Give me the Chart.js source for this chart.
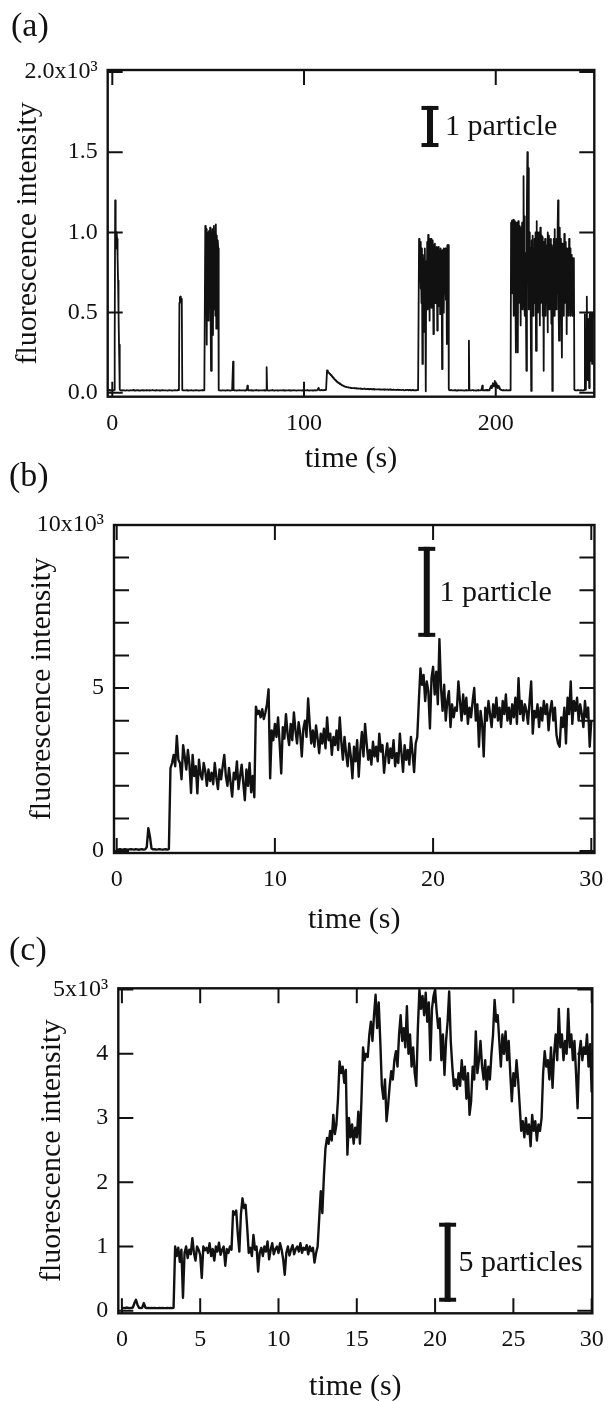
<!DOCTYPE html>
<html>
<head>
<meta charset="utf-8">
<script src="https://cdn.jsdelivr.net/npm/chart.js@4"></script>
<style>
  html, body { margin: 0; padding: 0; background: #fff; }
  body { width: 616px; height: 1401px; position: relative; overflow: hidden; }
  canvas { position: absolute; left: 0; }
  .tag { position: absolute; font: 34px 'Liberation Serif', serif; line-height: 1; color: #111; }
</style>
</head>
<body>
<canvas id="chartA" width="616" height="480" style="top:0px"></canvas>
<canvas id="chartB" width="616" height="480" style="top:460px"></canvas>
<canvas id="chartC" width="616" height="475" style="top:930px"></canvas>
<div class="tag" style="left:11px;top:8px">(a)</div>
<div class="tag" style="left:9px;top:458px">(b)</div>
<div class="tag" style="left:9px;top:932px">(c)</div>
<script>
// panel (a): one sample every 0.25 s, first sample at t = -2 s (40 samples per row = 10 s)
const startA = -2, stepA = 0.25;
const intensityA = [
  15,16,18,15,14,16,16,15,17,16,15,17,18,300,1200,900,990,1000,960,850,700,500,300,80,20,17,16,15,14,16,17,15,15,16,16,14,14,15,17,16, // -2
  15,16,16,14,14,15,17,16,15,16,16,17,18,16,15,14,14,15,16,17,15,16,17,15,16,14,14,15,15,16,17,16,16,15,14,15,15,16,16,17,             // 8
  15,16,17,16,16,15,14,15,15,16,16,17,18,16,15,16,16,15,14,16,17,16,15,16,16,15,15,14,14,15,16,16,17,16,15,16,16,15,15,16,             // 18
  16,15,15,14,14,16,16,17,17,15,15,16,16,14,14,15,15,16,16,17,17,15,15,16,16,18,18,17,560,595,600,590,585,560,18,16,16,15,15,16,     // 28
  16,15,15,17,17,14,14,16,16,15,15,16,16,17,17,15,15,14,14,16,16,15,15,17,17,16,16,15,15,14,14,16,16,15,15,17,17,16,16,16,             // 38
  16,16,1040,700,1020,300,980,560,1000,450,1010,620,1030,500,137,1000,600,1020,360,980,1040,520,1000,480,1050,400,980,600,950,900,
  18,15,15,16,16,14,14,15,15,16,                                                                                                       // 48
  15,15,16,16,14,14,15,15,17,17,16,16,16,16,14,14,15,15,16,16,195,17,17,15,15,16,16,14,14,15,15,16,16,17,17,15,15,16,16,15,            // 58
  15,15,16,16,14,14,17,17,16,16,45,18,18,15,15,16,16,17,17,15,15,14,14,16,16,15,15,17,17,16,16,15,15,14,14,16,16,15,15,16,             // 68
  16,16,15,15,17,17,14,14,15,15,160,16,16,15,15,14,14,16,16,15,15,17,17,16,16,14,14,15,15,16,16,15,15,14,14,16,16,15,15,16,            // 78
  16,16,15,15,17,17,15,15,14,14,16,16,15,15,16,16,17,17,15,15,14,14,16,16,15,15,17,17,16,16,15,15,14,14,16,16,15,15,16,16,             // 88
  15,15,16,16,14,14,17,17,15,15,16,16,15,15,17,17,16,16,14,14,15,15,16,16,15,15,14,14,16,16,17,17,15,15,16,16,18,18,30,20,             // 98
  17,17,16,16,18,18,17,17,16,16,18,18,17,17,19,19,140,133,131,126,125,120,118,114,110,108,104,100,96,94,90,86,82,81,78,74,70,69,66,63, // 108
  62,60,56,55,54,52,50,48,46,45,44,42,40,39,38,38,37,36,35,35,34,33,32,33,33,31,30,31,31,30,29,30,30,29,28,29,29,28,27,28,             // 118
  28,27,26,27,27,26,25,26,26,25,24,25,25,26,26,25,24,24,23,24,25,24,24,23,22,23,24,23,23,22,22,23,24,22,21,22,23,22,22,22,             // 128
  22,21,21,22,23,21,20,21,22,21,21,20,20,21,22,20,19,20,21,20,20,21,22,20,19,20,20,21,21,19,19,20,18,19,20,19,19,19,19,19,             // 138
  19,18,18,19,20,18,17,18,19,18,18,17,17,18,19,18,18,16,16,17,18,17,17,18,19,17,16,17,18,17,17,16,16,17,18,17,17,16,16,16,             // 148
  17,17,16,16,18,18,17,17,960,700,940,650,930,560,900,180,860,600,830,380,900,620,10,820,600,940,520,985,640,960,450,930,580,960,530,940,620,950,366,920, // 158
  600,930,560,900,640,910,388,900,600,910,540,880,490,900,620,880,148,890,560,900,500,880,620,900,580,880,304,920,880,920,
  25,17,17,16,16,18,18,15,15,16,                                                                                                       // 168
  16,16,17,17,15,15,16,16,14,14,17,17,16,16,15,15,17,17,16,16,15,15,14,14,16,16,17,17,15,15,16,16,325,18,18,15,15,16,16,17,            // 178
  17,17,15,15,16,16,14,14,16,16,17,17,15,15,16,16,15,15,17,17,45,16,16,15,15,17,17,16,16,18,18,15,15,17,17,16,30,35,40,45,             // 188
  30,45,60,50,40,55,75,50,35,45,55,40,30,38,45,35,25,22,20,19,18,17,16,16,17,16,15,15,16,17,17,16,15,15,16,16,17,17,16,17,             // 198
  1060,700,1075,620,1060,480,1080,560,1070,600,252,1060,540,1050,252,1070,560,1040,620,1000,
  420,1030,560,1060,520,870,1350,600,1100,480,870,500,137,1200,1500,700,1400,520,1000,600,                                           // 208
  900,450,12,950,560,980,480,900,600,960,560,1000,262,1070,520,1000,500,980,600,1000,
  420,1030,560,980,620,970,480,940,137,940,560,960,480,900,600,920,377,1000,520,980,                                                 // 218
  600,950,520,960,430,920,12,900,560,960,480,1020,600,940,520,960,620,1000,1200,560,
  325,980,1030,500,960,560,220,930,600,900,480,990,560,940,600,900,366,870,560,900,                                                  // 228
  480,960,600,900,480,840,560,860,480,840,600,840,20,17,16,16,15,15,16,16,
  18,18,15,15,16,16,17,17,15,15,16,16,18,18,490,30,20,300,600,100,                                                                   // 238
  80,460,300,30,480,500,200,480,500,180,480,500,470                                                                                    // 248 .. 251
];
const xTicksA = [0, 100, 200];
const xLabelsA = ['0', '100', '200'];
const yTicksA = [0, 500, 1000, 1500, 2000];
const yLabelsA = ['0.0', '0.5', '1.0', '1.5', '2.0x10³'];
const barA = { time: 165.7, from: 1532, to: 1788, textTime: 173.5, textAt: 1657, text: '1 particle' };

// panel (b): one sample every 0.1 s from t = 0
const startB = 0, stepB = 0.1;
const intensityB = [
  50,40,60,50,45,55,50,40,50,55,
  50,45,55,50,40,50,55,45,50,120,
  700,450,80,50,55,45,50,60,50,45,
  50,55,45,60,2540,2700,2950,2600,3530,2800,
  2700,2200,3250,2900,2500,3100,2650,1780,2950,2300,
  2600,1770,2800,2350,2200,2700,2450,2000,2500,2150,
  2400,2050,2700,2250,1900,2500,2200,2600,2950,2300,
  2000,2550,2100,1670,2400,2200,2750,1900,2300,2650,
  2100,1560,2500,2000,2700,1800,2300,1650,4430,4200,
  4300,4100,4350,4050,4250,4500,4960,2230,3700,3400,
  3900,3500,4100,3300,2380,3800,3450,4200,3600,3250,
  3900,3400,4250,3700,3300,3950,3600,2900,3750,4000,
  3500,4680,3900,3300,3700,3200,3850,3450,3000,3600,
  3300,3750,3150,4100,3400,3600,2950,3500,3250,3700,
  3100,4100,3350,2800,3500,3000,2600,3300,2900,2230,
  3200,2750,3400,2280,3100,3650,2900,3900,3300,2800,
  3100,2650,3350,2900,3200,2750,3600,3050,3250,2400,
  2900,3300,2700,3150,2850,3400,2600,3000,2700,3600,
  3000,2430,3250,2800,3100,2650,3500,3000,2420,3300,
  3500,4600,5600,5100,5400,4600,5200,4900,3760,5300,
  5650,4800,5500,4500,6500,5000,4300,5100,4000,4600,
  4900,3800,4500,4100,4400,4300,5200,4600,4000,4800,
  4200,4700,3900,4400,4100,4600,5000,4000,4500,3200,
  4300,3900,2900,4400,4000,4600,4200,3800,4500,4100,
  4700,4000,4400,3800,4600,4200,4800,4000,4400,3900,
  4500,4100,4700,3900,5300,4200,4600,4000,4500,4300,
  3900,4600,5200,3600,4300,4100,4500,3800,4400,4000,
  4600,4200,4500,3700,4300,4600,4000,4400,3560,3300,
  3200,4100,3800,4400,3300,4700,4200,5200,3900,4600,
  4300,4700,4000,4500,4200,3800,4600,4100,4400,3200,
  4000
];
const xTicksB = [0, 10, 20, 30];
const xLabelsB = ['0', '10', '20', '30'];
const yTicksB = [0, 1000, 2000, 3000, 4000, 5000, 6000, 7000, 8000, 9000, 10000];
const yLabelsB = ['0', '', '', '', '', '5', '', '', '', '', '10x10³'];
const barB = { time: 19.6, from: 6570, to: 9330, textTime: 20.4, textAt: 7910, text: '1 particle' };

// panel (c): one sample every 0.1 s from t = 0
const startC = 0, stepC = 0.1;
const intensityC = [
  40,45,40,50,45,40,45,50,120,170,
  90,45,40,50,120,50,40,45,40,45,
  40,45,40,40,45,40,45,40,40,45,
  40,45,40,45,1000,850,980,760,950,200,
  900,1000,820,950,880,1130,900,780,1000,950,
  870,510,1000,940,980,900,1050,850,960,780,
  1000,920,1060,870,950,1000,700,960,900,1000,
  950,1550,1500,1560,1200,920,1500,1750,1600,1650,
  1300,900,980,850,1180,950,1000,610,900,980,
  850,1000,920,1080,800,950,1050,880,960,1000,
  900,1050,950,800,560,900,1000,860,950,1020,
  880,960,1000,920,1050,900,980,950,1020,880,
  1000,930,980,750,900,1000,1440,1860,1520,2100,
  2530,2690,2600,2800,2650,3050,2750,2900,3300,3880,
  3700,3800,3550,3750,2430,3000,2700,2900,2600,2850,
  2700,3100,2600,3300,4100,3900,4000,3950,4300,4500,
  4200,4600,4920,4400,4800,4200,3500,3300,3600,2950,
  3200,3500,3730,3600,3900,4040,3800,4300,4600,4200,
  4400,4100,4740,4000,4300,3800,4100,3700,3500,4400,
  5000,4700,4900,4600,4950,4500,4800,3900,4700,4900,
  5000,4660,4400,4550,3900,4300,3670,4200,4500,4970,
  4200,3800,3500,3600,3450,3700,3500,3900,3600,3800,
  3300,3700,3050,3260,3800,3600,4350,3700,3900,4200,
  3800,3600,3900,3450,3800,3600,4000,4300,4840,4500,
  4600,4200,3800,4300,4000,4350,3900,4200,3700,3260,
  3700,3500,3900,3600,3200,2800,2950,2700,3000,2750,
  2900,2560,3050,2800,2950,2650,2900,2800,3000,3700,
  4040,3800,3900,3600,4100,3470,4000,4300,3900,4700,
  4100,4300,3900,4200,4000,4700,4100,4300,3900,4200,
  3700,3150,4000,4200,3900,4100,4000,4300,3800,4150,
  3400
];
const xTicksC = [0, 5, 10, 15, 20, 25, 30];
const xLabelsC = ['0', '5', '10', '15', '20', '25', '30'];
const yTicksC = [0, 1000, 2000, 3000, 4000, 5000];
const yLabelsC = ['0', '1', '2', '3', '4', '5x10³'];
const barC = { time: 20.8, from: 140, to: 1370, textTime: 21.5, textAt: 740, text: '5 particles' };

const ink = '#111';
const serif = "'Liberation Serif', 'Times New Roman', serif";
const tickLen = 15;

// frame, inward ticks on all four sides, and the particle scale bar
const frameTicks = {
  id: 'frameTicks',
  afterDatasetsDraw(chart, args, opts) {
    const { ctx, chartArea: a, scales: { x, y } } = chart;
    ctx.save();
    ctx.strokeStyle = ink;
    ctx.lineWidth = 2.4;
    ctx.strokeRect(a.left, a.top, a.right - a.left, a.bottom - a.top);
    ctx.lineWidth = 2;
    ctx.beginPath();
    x.ticks.forEach(t => {
      const px = x.getPixelForValue(t.value);
      ctx.moveTo(px, a.bottom); ctx.lineTo(px, a.bottom - tickLen);
      ctx.moveTo(px, a.top); ctx.lineTo(px, a.top + tickLen);
    });
    y.ticks.forEach(t => {
      const py = y.getPixelForValue(t.value);
      ctx.moveTo(a.left, py); ctx.lineTo(a.left + tickLen, py);
      ctx.moveTo(a.right, py); ctx.lineTo(a.right - tickLen, py);
    });
    ctx.stroke();

    const bar = opts.bar;
    if (bar) {
      const bx = x.getPixelForValue(bar.time);
      const top = y.getPixelForValue(bar.to);
      const bot = y.getPixelForValue(bar.from);
      ctx.fillStyle = ink;
      ctx.fillRect(bx - 3, top, 6, bot - top);
      ctx.fillRect(bx - 8.5, top, 17, 4);
      ctx.fillRect(bx - 8.5, bot - 4, 17, 4);
      ctx.font = '30px ' + serif;
      ctx.textAlign = 'left';
      ctx.textBaseline = 'middle';
      ctx.fillText(bar.text, x.getPixelForValue(bar.textTime), y.getPixelForValue(bar.textAt));
    }
    ctx.restore();
  }
};

function makePanel(id, p) {
  const points = p.values.map((v, i) => ({ x: p.start + i * p.step, y: v }));
  return new Chart(document.getElementById(id), {
    type: 'line',
    data: {
      datasets: [{
        data: points,
        borderColor: ink,
        borderWidth: p.lineWidth,
        borderJoinStyle: 'round',
        pointRadius: 0,
        tension: 0,
        fill: false
      }]
    },
    options: {
      responsive: false,
      animation: false,
      parsing: false,
      normalized: true,
      layout: { padding: p.padding },
      plugins: {
        legend: { display: false },
        tooltip: { enabled: false },
        frameTicks: { bar: p.bar }
      },
      scales: {
        x: {
          type: 'linear',
          min: p.xRange[0], max: p.xRange[1],
          grid: { display: false, drawTicks: false },
          border: { display: false },
          afterBuildTicks: s => { s.ticks = p.xTicks.map(v => ({ value: v })); },
          afterFit: s => { s.height = p.xHeight; },
          ticks: {
            autoSkip: false, maxRotation: 0, padding: p.xTickPad, color: ink,
            font: { family: serif, size: 24 },
            callback: (v, i) => p.xLabels[i]
          },
          title: {
            display: true, text: 'time (s)', color: ink,
            font: { family: serif, size: 30 },
            padding: { top: 0, bottom: p.xTitlePad }
          }
        },
        y: {
          type: 'linear',
          min: p.yRange[0], max: p.yRange[1],
          grid: { display: false, drawTicks: false },
          border: { display: false },
          afterBuildTicks: s => { s.ticks = p.yTicks.map(v => ({ value: v })); },
          afterFit: s => { s.width = p.yWidth; },
          ticks: {
            autoSkip: false, padding: 10, color: ink,
            font: { family: serif, size: 24 },
            callback: (v, i) => p.yLabels[i]
          },
          title: {
            display: true, text: 'fluorescence intensity', color: ink,
            font: { family: serif, size: 30 },
            padding: { top: p.yTitlePad, bottom: 0 }
          }
        }
      }
    },
    plugins: [frameTicks]
  });
}

makePanel('chartA', {
  values: intensityA, start: startA, step: stepA, lineWidth: 1.8,
  xRange: [-2.4, 251.4], yRange: [-24, 2012],
  xTicks: xTicksA, xLabels: xLabelsA, yTicks: yTicksA, yLabels: yLabelsA, bar: barA,
  padding: { top: 70, right: 21.7, left: 0, bottom: 0 },
  yWidth: 107.7, xHeight: 83.3, xTickPad: 13, xTitlePad: 3, yTitlePad: 10.5
});

makePanel('chartB', {
  values: intensityB, start: startB, step: stepB, lineWidth: 2.4,
  xRange: [-0.17, 30.2], yRange: [-60, 10000],
  xTicks: xTicksB, xLabels: xLabelsB, yTicks: yTicksB, yLabels: yLabelsB, bar: barB,
  padding: { top: 65, right: 16, left: 0, bottom: 0 },
  yWidth: 114, xHeight: 87, xTickPad: 12.6, xTitlePad: 2, yTitlePad: 24
});

makePanel('chartC', {
  values: intensityC, start: startC, step: stepC, lineWidth: 2.4,
  xRange: [-0.23, 30.04], yRange: [-40, 5020],
  xTicks: xTicksC, xLabels: xLabelsC, yTicks: yTicksC, yLabels: yLabelsC, bar: barC,
  padding: { top: 58.3, right: 13.3, left: 0, bottom: 0 },
  yWidth: 118.3, xHeight: 91.7, xTickPad: 12.3, xTitlePad: 0, yTitlePad: 34
});
</script>
</body>
</html>
